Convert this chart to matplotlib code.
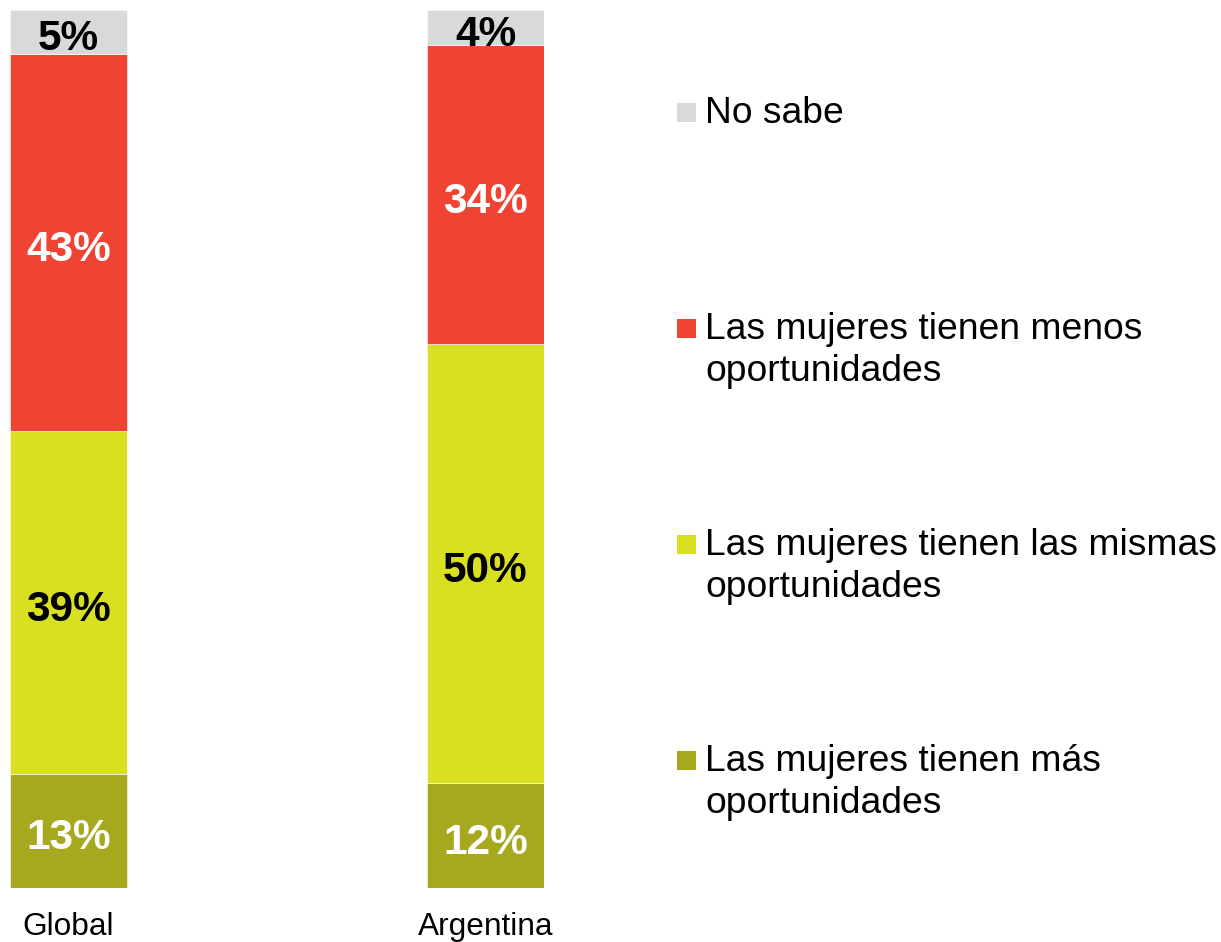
import numpy as np
import matplotlib
matplotlib.use('Agg')
from matplotlib import pyplot as plt
from matplotlib.patches import Rectangle

plt.rcParams['font.family'] = ['Liberation Sans', 'DejaVu Sans']

#data:
regions   = ['Global', 'Argentina']
series    = ['Las mujeres tienen más\noportunidades',
             'Las mujeres tienen las mismas\noportunidades',
             'Las mujeres tienen menos\noportunidades',
             'No sabe']
mas       = [13, 12]
mismas    = [39, 50]
menos     = [43, 34]
nosabe    = [5, 4]
values    = [mas, mismas, menos, nosabe]
colors    = ['#A6A81D', '#D9DF21', '#EF4433', '#D9D9D9']
txtcolors = ['white', 'black', 'white', 'black']

W, H = 1221, 942
fig = plt.figure(figsize=(W/100, H/100), dpi=100)
w   = 117/417.
ax  = fig.add_axes([10/W, 54/H, 534/W, 878/H])

x      = np.arange(len(regions))
bottom = np.zeros(len(regions))
for vals, c, tc in zip(values, colors, txtcolors):
    vals = np.array(vals, dtype=float)
    ax.bar(x, vals, w, bottom=bottom, color=c, edgecolor='white', lw=0.4)
    for xi, b, v in zip(x, bottom, vals):
        ax.annotate('%d%%' % v, (xi, b + v/2.), xytext=(0, -3),
                    textcoords='offset pixels', ha='center',
                    va='center_baseline', color=tc, fontsize=30.5,
                    fontweight='bold')
    bottom += vals

ax.set_xlim(-w/2, 1 + w/2)
ax.set_ylim(0, 100)
ax.set_xticks(x)
ax.set_xticklabels(regions, fontsize=22.8)
ax.tick_params(axis='x', length=0, pad=17)
ax.set_yticks([])
for s in ax.spines.values():
    s.set_visible(False)

#legend (top to bottom):
for i, (lab, c) in enumerate(zip(series[::-1], colors[::-1])):
    ytop = 103 + 216*i
    fig.add_artist(Rectangle((677/W, 1 - (ytop + 19)/H), 19/W, 19/H,
                             transform=fig.transFigure, color=c, lw=0))
    for j, line in enumerate(lab.split('\n')):
        fig.text(705/W, 1 - (ytop + 20 + 42*j)/H, line, fontsize=26.8,
                 va='baseline', ha='left')

fig.savefig('out.png', dpi=100)
